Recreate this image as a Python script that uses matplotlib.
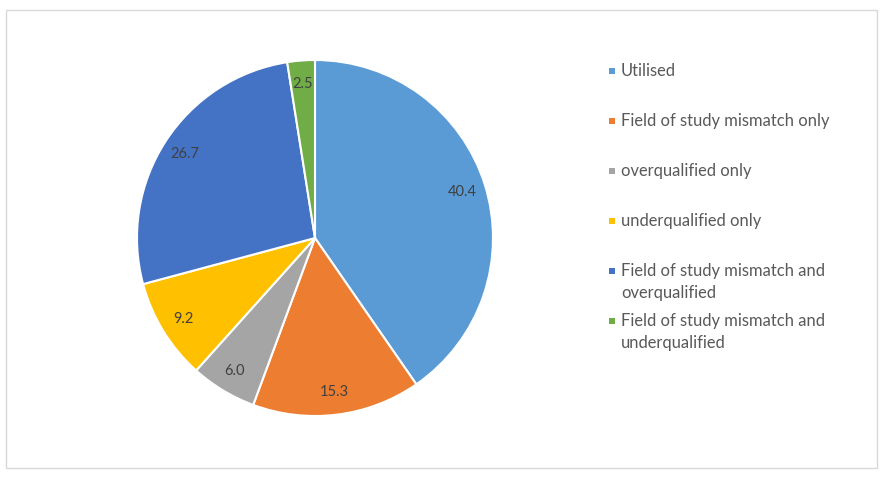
import matplotlib.pyplot as plt
from matplotlib.patches import Rectangle

# data
categories = ['Utilised', 'Field of study mismatch only', 'overqualified only',
              'underqualified only', 'Field of study mismatch and\noverqualified',
              'Field of study mismatch and\nunderqualified']
shares = [40.4, 15.3, 6.0, 9.2, 26.7, 2.5]
colors = ['#5B9BD5', '#ED7D31', '#A5A5A5', '#FFC000', '#4472C4', '#70AD47']

W, H = 883, 478
fig = plt.figure(figsize=(W / 100, H / 100), dpi=100)
plt.rcParams['font.family'] = ['Lato', 'DejaVu Sans']

# outer frame
fig.patches.append(Rectangle((6 / W, 10 / H), 871 / W, 458 / H, transform=fig.transFigure,
                             fill=False, edgecolor='#d9d9d9', linewidth=1))

# pie, centre (315, 238) px, radius 178 px
cx, cy, r = 315, 238, 178
ax = fig.add_axes([(cx - r) / W, (H - cy - r) / H, 2 * r / W, 2 * r / H])
wedges, texts = ax.pie(shares, colors=colors, startangle=90, counterclock=False, radius=1,
                       labels=['%.1f' % v for v in shares], labeldistance=0.87,
                       wedgeprops=dict(edgecolor='white', linewidth=1.5),
                       textprops=dict(fontsize=10.5, color='#404040', ha='center', va='center'))
for t in texts:
    t.set_horizontalalignment('center')
ax.set_xlim(-1, 1)
ax.set_ylim(-1, 1)
ax.set_aspect('equal')
ax.axis('off')

# legend, drawn by hand so the marker sits on the first line
lx, ly0, step = 612, 71, 50
for i, (lab, c) in enumerate(zip(categories, colors)):
    y = ly0 + i * step
    fig.patches.append(Rectangle(((lx - 3) / W, (H - y - 3) / H), 6 / W, 6 / H,
                                 transform=fig.transFigure, facecolor=c, edgecolor='none'))
    fig.text((lx + 9) / W, (H - y) / H, lab.split('\n')[0], fontsize=11.9, color='#595959',
             va='center', ha='left')
    if '\n' in lab:
        fig.text((lx + 9) / W, (H - y - 22) / H, lab.split('\n')[1], fontsize=11.9,
                 color='#595959', va='center', ha='left')

fig.savefig('out.png', dpi=100)
